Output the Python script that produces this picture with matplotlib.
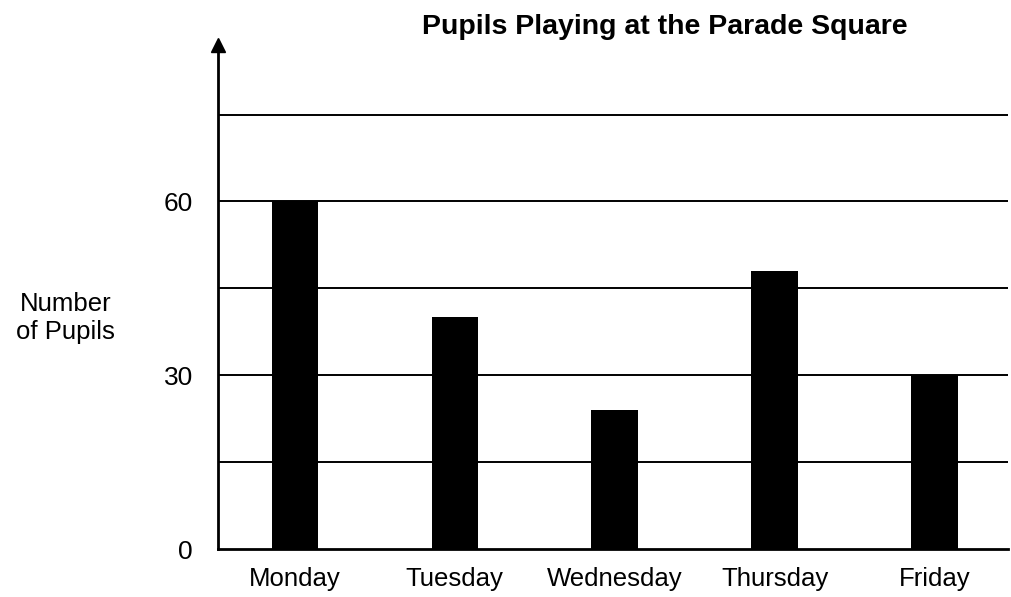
import matplotlib.pyplot as plt

# Données
days = ['Monday', 'Tuesday', 'Wednesday', 'Thursday', 'Friday']
pupils = [60, 40, 24, 48, 30]
ytick_vals = [0, 30, 60]
grid_vals = [15, 30, 45, 60, 75]

plt.rcParams['font.family'] = ['Liberation Sans', 'DejaVu Sans']

fig = plt.figure(figsize=(10.11, 5.97), dpi=100)
ax = fig.add_axes([0.2156, 0.0804, 0.781, 0.8442])

x = list(range(len(days)))
ax.bar(x, pupils, width=0.29, color='black', zorder=3)

# grille horizontale
for g in grid_vals:
    ax.axhline(g, color='black', linewidth=1.4, zorder=1)

ax.set_xlim(-0.48, 4.456)
ax.set_ylim(0, 87)

ax.set_yticks(ytick_vals)
ax.set_yticklabels([str(v) for v in ytick_vals], fontsize=19)
ax.set_xticks(x)
ax.set_xticklabels(days, fontsize=18.5)
ax.tick_params(axis='both', length=0)
ax.tick_params(axis='y', pad=18)
ax.tick_params(axis='x', pad=13)

for s in ['top', 'right']:
    ax.spines[s].set_visible(False)
ax.spines['left'].set_linewidth(2)
ax.spines['bottom'].set_linewidth(2)

# flèche en haut de l'axe y
ax.plot(-0.48, 87, marker='^', color='black', markersize=10,
        clip_on=False, zorder=5)

fig.text(0.658, 0.955, 'Pupils Playing at the Parade Square',
         fontsize=20.5, fontweight='bold', ha='center', va='center')
fig.text(0.065, 0.468, 'Number\nof Pupils', fontsize=18.5,
         ha='center', va='center', linespacing=1.2)

fig.savefig('out.png', dpi=100)
